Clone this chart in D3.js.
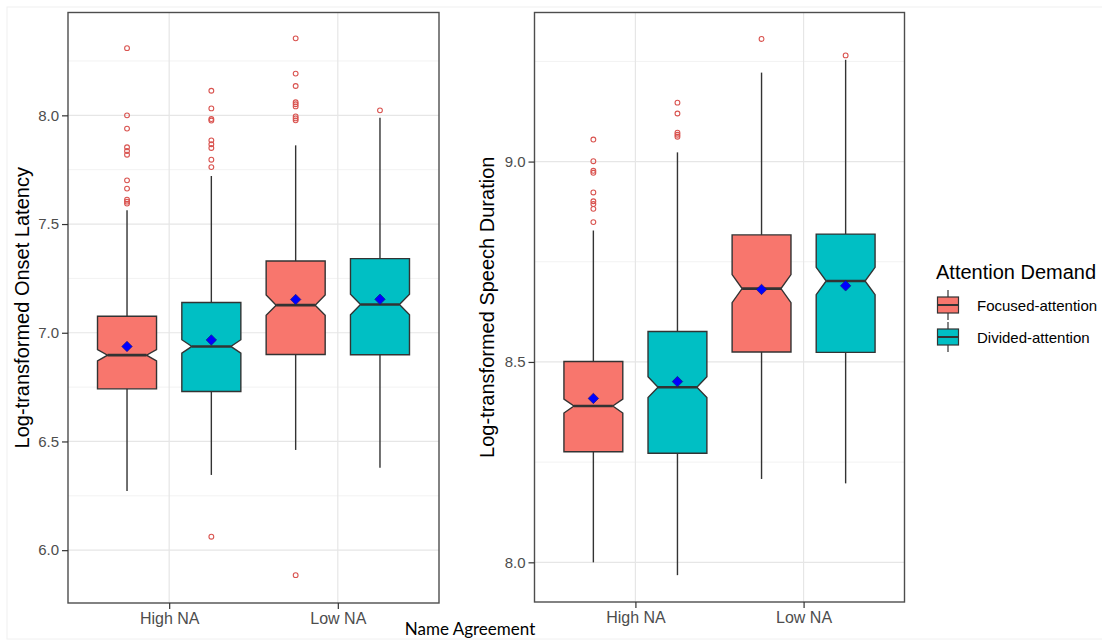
<!DOCTYPE html>
<html>
<head>
<meta charset="utf-8">
<script src="https://cdn.jsdelivr.net/npm/d3@7"></script>
<style>
  body { margin: 0; background: #fff; }
  text { font-family: "Liberation Sans", Arial, sans-serif; }
</style>
</head>
<body>
<div id="my_dataviz"></div>
<script>
// categories
var naLevels = ["High NA", "Low NA"];
var demandLevels = ["Focused-attention", "Divided-attention"];
var demandColors = ["#F8766D", "#00BFC4"];

// onset latency stats, order: High/Focused, High/Divided, Low/Focused, Low/Divided
var onsetLower  = [6.272, 6.346, 6.461, 6.379];
var onsetQ1     = [6.742, 6.730, 6.900, 6.899];
var onsetMedian = [6.897, 6.937, 7.127, 7.130];
var onsetQ3     = [7.076, 7.139, 7.330, 7.341];
var onsetUpper  = [7.563, 7.721, 7.862, 7.989];
var onsetMean   = [6.937, 6.967, 7.153, 7.154];
var onsetNotch  = [0.026, 0.031, 0.047, 0.047];
var onsetOutliers = [
  [8.309, 8.000, 7.939, 7.853, 7.836, 7.819, 7.701, 7.663, 7.612, 7.603, 7.594],
  [8.113, 8.032, 7.983, 7.976, 7.885, 7.867, 7.850, 7.796, 7.762, 6.062],
  [8.354, 8.192, 8.135, 8.060, 8.051, 8.041, 7.995, 7.986, 7.977, 5.885],
  [8.023]
];
var onsetTicks = [6.0, 6.5, 7.0, 7.5, 8.0];

// speech duration stats
var durLower  = [8.000, 7.968, 8.208, 8.197];
var durQ1     = [8.276, 8.272, 8.525, 8.524];
var durMedian = [8.390, 8.437, 8.683, 8.702];
var durQ3     = [8.501, 8.576, 8.817, 8.819];
var durUpper  = [8.828, 9.023, 9.222, 9.254];
var durMean   = [8.409, 8.451, 8.681, 8.690];
var durNotch  = [0.0175, 0.026, 0.035, 0.034];
var durOutliers = [
  [9.055, 9.001, 8.977, 8.972, 8.923, 8.901, 8.894, 8.882, 8.849],
  [9.147, 9.120, 9.072, 9.067, 9.062],
  [9.306],
  [9.265]
];
var durTicks = [8.0, 8.5, 9.0];

var W = 1102, H = 641;
var svg = d3.select("#my_dataviz").append("svg")
    .attr("width", W).attr("height", H);

// faint outer frame like the screenshot
svg.append("rect")
    .attr("x", 7).attr("y", 7).attr("width", W - 6).attr("height", 632)
    .attr("fill", "none").attr("stroke", "#f0f0f0");

function drawPanel(opts) {
    var w = opts.x1 - opts.x0, h = opts.y1 - opts.y0;
    var g = svg.append("g").attr("transform", "translate(" + opts.x0 + "," + opts.y0 + ")");

    var x = d3.scalePoint().domain(naLevels).range([0, w]).padding(0.6);
    var step = x.step();
    var y = d3.scaleLinear().domain(opts.domain).range([h, 0]);

    // grid
    var minor = [];
    for (var i = 0; i < opts.ticks.length; i++) {
        minor.push(opts.ticks[i] - 0.25);
        minor.push(opts.ticks[i] + 0.25);
    }
    minor = minor.filter(function (v, i, a) {
        return a.indexOf(v) === i && v > opts.domain[0] && v < opts.domain[1] && opts.ticks.indexOf(v) < 0;
    });
    g.selectAll(".minor").data(minor).enter().append("line")
        .attr("x1", 0).attr("x2", w)
        .attr("y1", function (d) { return y(d); }).attr("y2", function (d) { return y(d); })
        .attr("stroke", "#f2f2f2").attr("stroke-width", 1);
    g.selectAll(".majy").data(opts.ticks).enter().append("line")
        .attr("x1", 0).attr("x2", w)
        .attr("y1", function (d) { return y(d); }).attr("y2", function (d) { return y(d); })
        .attr("stroke", "#e6e6e6").attr("stroke-width", 1.2);
    g.selectAll(".majx").data(naLevels).enter().append("line")
        .attr("y1", 0).attr("y2", h)
        .attr("x1", function (d) { return x(d); }).attr("x2", function (d) { return x(d); })
        .attr("stroke", "#e6e6e6").attr("stroke-width", 1.2);

    // boxes
    var s = opts.stats;
    var boxes = [];
    for (var k = 0; k < 4; k++) {
        boxes.push({
            na: naLevels[Math.floor(k / 2)], grp: k % 2,
            lo: s.lower[k], q1: s.q1[k], med: s.median[k], q3: s.q3[k], hi: s.upper[k],
            mean: s.mean[k], notch: s.notch[k], out: s.outliers[k]
        });
    }
    var off = 0.25 * step, bw = 0.35 * step, nw = 0.66;

    boxes.forEach(function (b) {
        var cx = x(b.na) + (b.grp === 0 ? -off : off);
        var xl = cx - bw / 2, xr = cx + bw / 2;
        var il = cx - bw * nw / 2, ir = cx + bw * nw / 2;
        // whiskers
        g.append("line").attr("x1", cx).attr("x2", cx)
            .attr("y1", y(b.q3)).attr("y2", y(b.hi))
            .attr("stroke", "#333").attr("stroke-width", 1.4);
        g.append("line").attr("x1", cx).attr("x2", cx)
            .attr("y1", y(b.q1)).attr("y2", y(b.lo))
            .attr("stroke", "#333").attr("stroke-width", 1.4);
        // notched box
        var pts = [
            [xl, y(b.q3)], [xr, y(b.q3)], [xr, y(b.med + b.notch)], [ir, y(b.med)],
            [xr, y(b.med - b.notch)], [xr, y(b.q1)], [xl, y(b.q1)], [xl, y(b.med - b.notch)],
            [il, y(b.med)], [xl, y(b.med + b.notch)]
        ];
        g.append("path").attr("d", d3.line()(pts) + "Z")
            .attr("fill", demandColors[b.grp]).attr("stroke", "#333").attr("stroke-width", 1.4);
        g.append("line").attr("x1", il).attr("x2", ir)
            .attr("y1", y(b.med)).attr("y2", y(b.med))
            .attr("stroke", "#333").attr("stroke-width", 2.6);
        // outliers
        g.selectAll(null).data(b.out).enter().append("circle")
            .attr("cx", cx).attr("cy", function (d) { return y(d); })
            .attr("r", 2.4).attr("fill", "none")
            .attr("stroke", "#d9534f").attr("stroke-width", 1.1);
        // mean
        g.append("path")
            .attr("d", d3.symbol().type(d3.symbolDiamond2).size(70)())
            .attr("transform", "translate(" + cx + "," + y(b.mean) + ")")
            .attr("fill", "#0000ff").attr("stroke", "#1a1a6e").attr("stroke-width", 0.6);
    });

    // border
    g.append("rect").attr("width", w).attr("height", h)
        .attr("fill", "none").attr("stroke", "#4d4d4d").attr("stroke-width", 1.4);

    // axes
    var ya = g.append("g").call(d3.axisLeft(y).tickValues(opts.ticks)
        .tickFormat(d3.format(".1f")).tickSize(6).tickPadding(3));
    ya.select(".domain").remove();
    ya.selectAll("line").attr("stroke", "#333").attr("stroke-width", 1.2);
    ya.selectAll("text").attr("fill", "#4d4d4d").style("font-size", "15px");

    var xa = g.append("g").attr("transform", "translate(0," + h + ")")
        .call(d3.axisBottom(x).tickSize(6).tickPadding(4));
    xa.select(".domain").remove();
    xa.selectAll("line").attr("stroke", "#333").attr("stroke-width", 1.2);
    xa.selectAll("text").attr("fill", "#4d4d4d").style("font-size", "16px");

    svg.append("text")
        .attr("transform", "translate(" + opts.titleX + "," + (opts.y0 + h / 2) + ") rotate(-90)")
        .attr("text-anchor", "middle").attr("dominant-baseline", "central")
        .style("font-size", "20px").attr("fill", "#000")
        .text(opts.title);
}

drawPanel({
    x0: 68, x1: 439, y0: 12.5, y1: 603,
    domain: [5.757, 8.473], ticks: onsetTicks,
    stats: { lower: onsetLower, q1: onsetQ1, median: onsetMedian, q3: onsetQ3,
             upper: onsetUpper, mean: onsetMean, notch: onsetNotch, outliers: onsetOutliers },
    title: "Log-transformed Onset Latency", titleX: 22
});

drawPanel({
    x0: 534.5, x1: 904.5, y0: 12.5, y1: 602,
    domain: [7.901, 9.372], ticks: durTicks,
    stats: { lower: durLower, q1: durQ1, median: durMedian, q3: durQ3,
             upper: durUpper, mean: durMean, notch: durNotch, outliers: durOutliers },
    title: "Log-transformed Speech Duration", titleX: 487
});

// x title
svg.append("text")
    .attr("x", 470).attr("y", 635)
    .attr("text-anchor", "middle")
    .style("font-size", "17px")
    .style("font-family", "Lato, 'Liberation Sans', sans-serif")
    .text("Name Agreement");

// legend
var legend = svg.append("g").attr("transform", "translate(936,0)");
legend.append("text").attr("x", 0).attr("y", 279)
    .style("font-size", "20px").text("Attention Demand");
demandLevels.forEach(function (d, i) {
    var cy = 305 + i * 32;
    var kg = legend.append("g").attr("transform", "translate(1," + cy + ")");
    kg.append("line").attr("x1", 11).attr("x2", 11).attr("y1", -15).attr("y2", 15)
        .attr("stroke", "#333").attr("stroke-width", 1.2);
    kg.append("rect").attr("x", 0.5).attr("y", -8).attr("width", 21).attr("height", 16)
        .attr("fill", demandColors[i]).attr("stroke", "#333").attr("stroke-width", 1.2);
    kg.append("line").attr("x1", 0.5).attr("x2", 21.5).attr("y1", 0).attr("y2", 0)
        .attr("stroke", "#333").attr("stroke-width", 2);
    legend.append("text").attr("x", 41).attr("y", cy)
        .attr("dominant-baseline", "central")
        .style("font-size", "15px").text(d);
});
</script>
</body>
</html>
